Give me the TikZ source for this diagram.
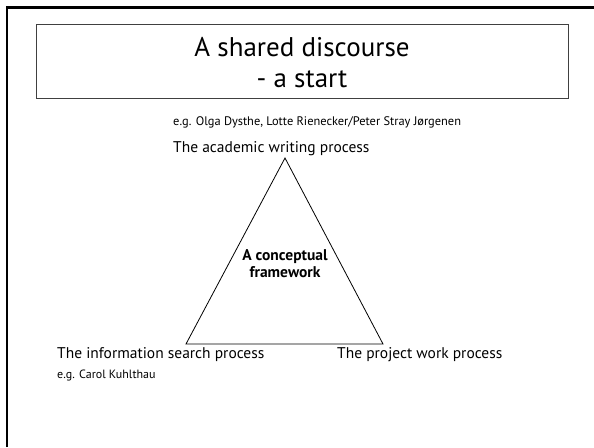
\documentclass[tikz,border=0pt]{standalone}
\usepackage{fontspec}
\setmainfont{PT Sans}
\begin{document}
\begin{tikzpicture}[x=1pt,y=-1pt,
    txt/.style={inner sep=0pt,anchor=base west},
    ctr/.style={inner sep=0pt,anchor=base}]
      \useasboundingbox (0,0) rectangle (594,447);
      % slide frame and title box
      \draw[line width=2.5pt] (7,447) -- (7,7.5) -- (594,7.5);
      \draw[black!75,line width=1pt] (36,24) rectangle (568,98);
      \node[ctr,font=\fontsize{27}{31}\selectfont] (title) at (302,56) {A shared discourse};
      \node[ctr,font=\fontsize{27}{31}\selectfont] (subtitle) at (302,87) {- a start};
      % the triangle
      \coordinate (top) at (285,158);
      \coordinate (left) at (186,344);
      \coordinate (right) at (383,344);
      \draw[line width=0.8pt] (top) -- (left) -- (right) -- cycle;
      \node[ctr,font=\bfseries\fontsize{15.5}{17}\selectfont] (concept) at (285,260) {A conceptual};
      \node[ctr,font=\bfseries\fontsize{15.5}{17}\selectfont] (frame) at (285,277) {framework};
      % corner labels
      \node[txt,font=\fontsize{12.4}{14}\selectfont] (refs) at (173,125) {e.g. Olga Dysthe, Lotte Rienecker/Peter Stray Jørgenen};
      \node[txt,font=\fontsize{15.5}{18}\selectfont] (writing) at (173,152) {The academic writing process};
      \node[txt,font=\fontsize{15.5}{18}\selectfont] (search) at (57,358) {The information search process};
      \node[txt,font=\fontsize{12}{14}\selectfont] (kuhl) at (57,378) {e.g. Carol Kuhlthau};
      \node[txt,font=\fontsize{15.5}{18}\selectfont] (project) at (337,358) {The project work process};
\end{tikzpicture}
\end{document}
